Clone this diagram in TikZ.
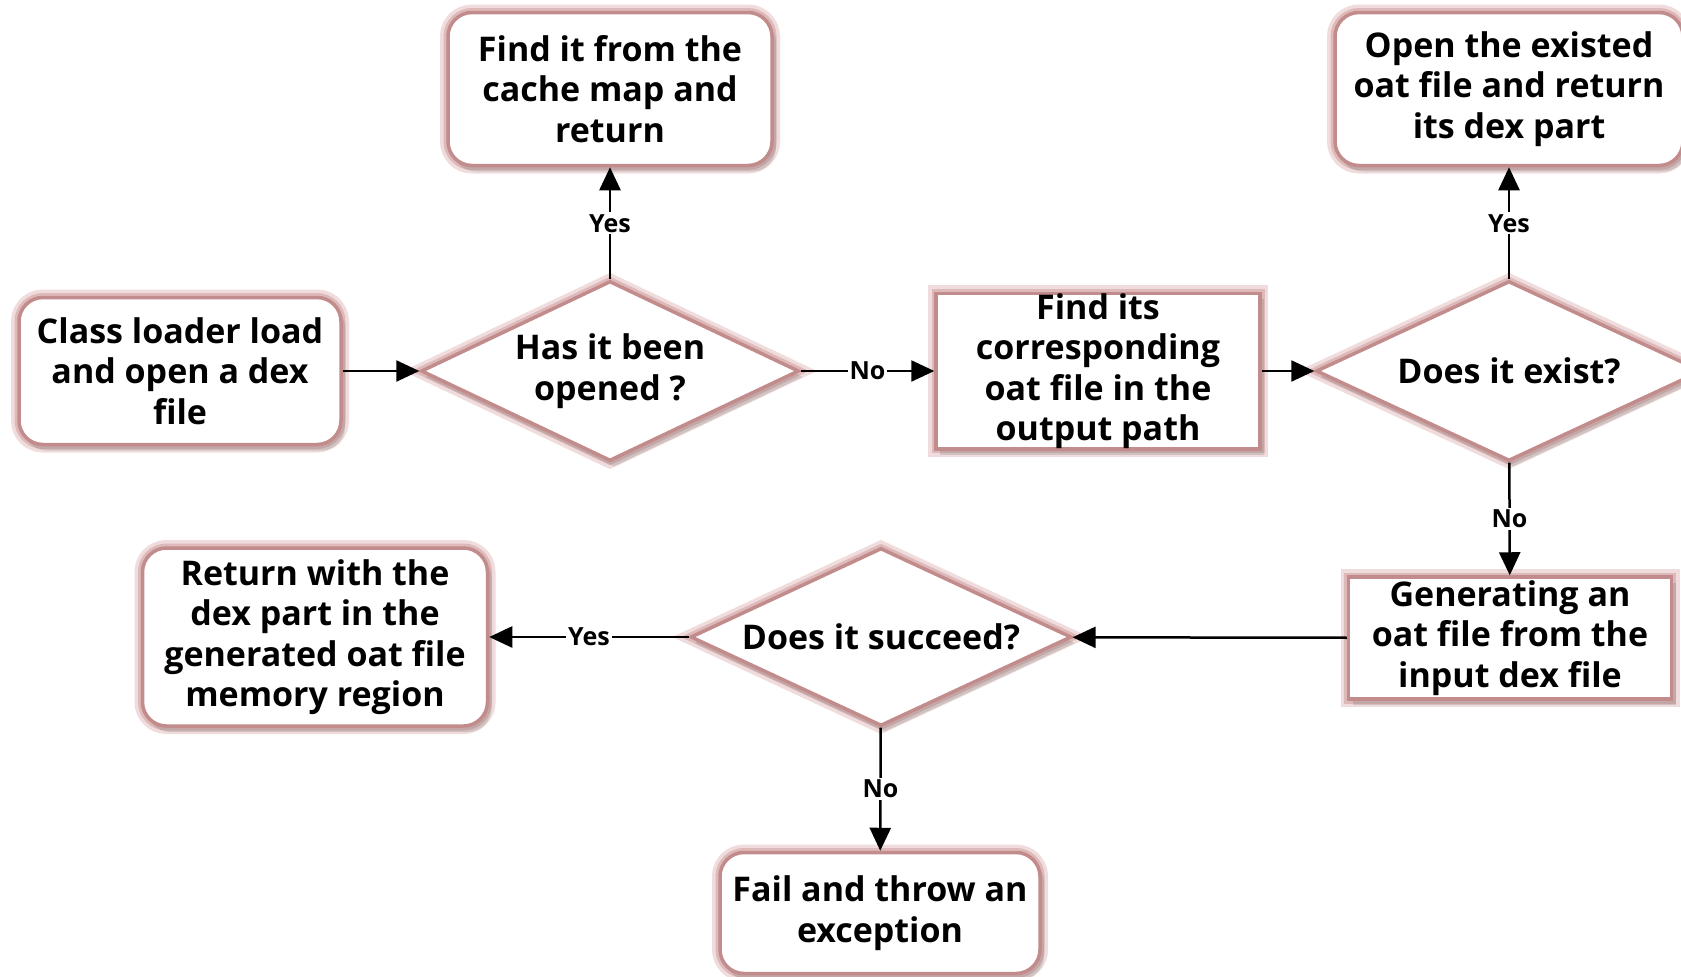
\documentclass[tikz,border=0pt]{standalone}
\usepackage{fontspec}
\setmainfont{Open Sans}
\usetikzlibrary{shapes.geometric,arrows.meta,shadows}
\definecolor{glowA}{RGB}{195,140,140}
\definecolor{glowB}{RGB}{222,185,185}
\definecolor{glowC}{RGB}{240,220,220}
\tikzset{
  glow/.style={fill=white, draw=glowA, line width=3.5pt,
    preaction={draw=glowC, line width=16pt},
    preaction={draw=glowB, line width=9pt},
    drop shadow={shadow xshift=4pt, shadow yshift=-6pt, opacity=0.22, fill=black!60}},
  txt/.style={font=\fontsize{34}{40.5}\selectfont\bfseries, align=center, inner sep=0pt},
  rbox/.style={glow, txt, rounded corners=24pt},
  sbox/.style={glow, txt},
  dia/.style={glow, txt, diamond, aspect=2.1},
  arr/.style={line width=2.5pt, -{Triangle[length=23pt,width=21pt]}},
  lbl/.style={midway, fill=white, inner sep=2pt, font=\fontsize{25}{28}\selectfont\bfseries}
}
\begin{document}
\begin{tikzpicture}[x=1pt,y=-1pt]
\clip (0,0) rectangle (1681,977);
\fill[white] (0,0) rectangle (1681,977);
\node[rbox, minimum width=322pt, minimum height=147pt] (load) at (180,371) {Class loader load\\and open a dex\\file};
\node[dia, minimum width=378pt, minimum height=180pt] (opened) at (610,371) {Has it been\\opened ?};
\node[rbox, minimum width=324pt, minimum height=153pt] (cache) at (610,89) {Find it from the\\cache map and\\return};
\node[sbox, minimum width=324pt, minimum height=153pt] (find) at (1098,371) {Find its\\corresponding\\oat file in the\\output path};
\node[dia, minimum width=386pt, minimum height=180pt] (exist) at (1509,371) {Does it exist?};
\node[rbox, minimum width=348pt, minimum height=153pt] (open) at (1509,89) {Open the existed\\oat file and return\\its dex part};
\node[sbox, minimum width=323pt, minimum height=122pt] (gen) at (1510,638) {Generating an\\oat file from the\\input dex file};
\node[dia, minimum width=381pt, minimum height=178pt] (succ) at (881,637) {Does it succeed?};
\node[rbox, minimum width=345pt, minimum height=178pt] (ret) at (315,637) {Return with the\\dex part in the\\generated oat file\\memory region};
\node[rbox, minimum width=320pt, minimum height=121pt] (fail) at (880,913) {Fail and throw an\\exception};

\draw[arr] (load) -- (opened);
\draw[arr] (opened) -- node[lbl]{Yes} (cache);
\draw[arr] (opened) -- node[lbl]{No} (find);
\draw[arr] (find) -- (exist);
\draw[arr] (exist) -- node[lbl]{Yes} (open);
\draw[arr] (exist) -- node[lbl]{No} (gen);
\draw[arr] (gen) -- (succ);
\draw[arr] (succ) -- node[lbl]{Yes} (ret);
\draw[arr] (succ) -- node[lbl]{No} (fail);
\end{tikzpicture}
\end{document}
